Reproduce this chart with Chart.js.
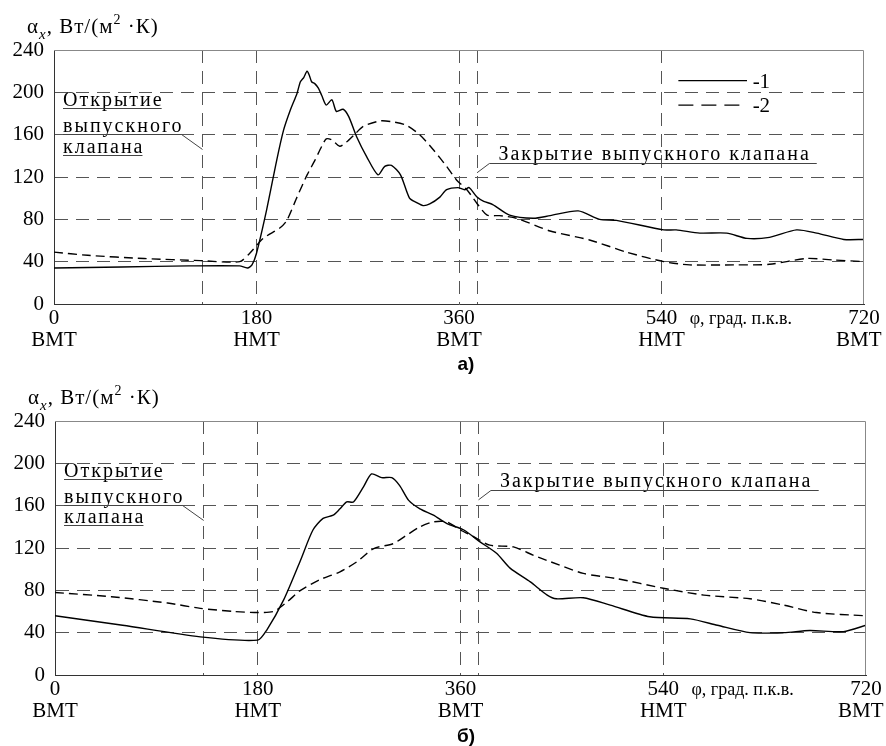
<!DOCTYPE html>
<html>
<head>
<meta charset="utf-8">
<script src="https://cdn.jsdelivr.net/npm/chart.js@4.4.0/dist/chart.umd.min.js"></script>
<style>
  body { margin: 0; background: #fff; width: 886px; height: 746px; overflow: hidden; position: relative; }
  canvas { position: absolute; left: 0; }
  #chartA { top: 0; }
  #chartB { top: 371px; }
  .cap { position: absolute; width: 60px; left: 436px; text-align: center;
         font: bold 19px "Liberation Sans", Arial, sans-serif; color: #000; }
</style>
</head>
<body>
<canvas id="chartA" width="886" height="371"></canvas>
<canvas id="chartB" width="886" height="375"></canvas>
<div class="cap" style="top:353px">а)</div>
<div class="cap" style="top:725px">б)</div>
<script>
// ---- data (crank angle, deg / heat transfer coef, W/(m2 K)) ----
const phiA1   = [0, 60, 120, 165, 172, 176, 180, 189, 198, 204, 210, 216, 219, 222, 225, 227, 229, 232, 235, 238, 242, 247, 251, 257, 262, 269, 278, 288, 294, 300, 308, 316, 322, 328, 334, 343, 349, 359, 365, 369, 376, 382, 390, 405, 426, 441, 466, 485, 500, 542, 553, 574, 598, 616, 636, 660, 678, 702, 720];
const alphaA1 = [34, 35, 36, 36, 34, 37, 48, 89, 136, 164, 183, 199, 210, 214, 220, 216, 210, 208, 204, 197, 188, 193, 182, 184, 177, 158, 139, 122, 130, 131, 122, 100, 96, 93, 94.5, 101, 108, 110, 108, 110, 101, 97, 94, 84, 81, 83.5, 88, 80, 79, 70, 70, 67, 67, 62, 63, 70, 67, 61, 61];

const phiA2   = [0, 30, 80, 130, 165, 174, 186, 201, 207, 216, 225, 232, 238, 242, 247, 254, 260, 268, 275, 290, 302, 313, 325, 337, 349, 358, 367, 376, 385, 396, 411, 441, 476, 509, 542, 565, 604, 636, 669, 693, 720];
const alphaA2 = [49, 46, 43, 41, 40, 48, 62, 72, 79, 101, 122, 136, 149, 156, 155, 149, 153, 161, 168, 173, 172, 169, 160, 146, 130, 117, 108, 95, 84, 83.5, 81, 69, 60.5, 49, 40, 37, 37, 37.5, 43, 41.6, 40];

const phiB1   = [0, 60, 129, 180, 188, 203, 218, 229, 238, 247, 253, 259, 265, 274, 281, 290, 299, 306, 314, 324, 336, 348, 363, 377, 392, 404, 422, 437, 445, 469, 493, 528, 564, 588, 617, 647, 670, 700, 720];
const alphaB1 = [56, 47, 36, 33, 42.5, 71, 108.5, 137, 148, 151, 157, 163.5, 163.5, 178, 190, 186.5, 186.5, 179, 165, 157, 151, 143, 137, 126, 115, 101, 88, 75.5, 72, 73, 66, 55, 53, 47, 40, 40, 42, 41, 47];

const phiB2   = [0, 50, 100, 129, 159, 180, 194, 206, 218, 235, 253, 268, 283, 300, 312, 324, 336, 348, 360, 372, 386, 407, 425, 440, 469, 499, 540, 576, 617, 647, 676, 719];
const alphaB2 = [78, 74, 68, 63, 60, 59, 60, 69, 80, 90, 97.5, 107, 119.5, 124, 132, 140, 144.7, 144.7, 137, 130.5, 122.7, 121, 113, 107, 96, 91, 82, 75.5, 72, 66, 59, 56];

const xTickValues = [0, 180, 360, 540, 720];
const xTickNums   = ['0', '180', '360', '540', '720'];
const xTickNames  = ['ВМТ', 'НМТ', 'ВМТ', 'НМТ', 'ВМТ\u00a0\u00a0'];
const valveMarks  = [132, 376];   // открытие / закрытие выпускного клапана
const yTickValues = [0, 40, 80, 120, 160, 200, 240];

const SERIF = '"Liberation Serif", "Times New Roman", serif';

const notesPlugin = {
  id: 'notes',
  afterDraw(chart, args, o) {
    const {ctx, chartArea: a, scales: {x, y}} = chart;
    ctx.save();
    // top and right frame
    ctx.strokeStyle = '#888';
    ctx.lineWidth = 1;
    ctx.beginPath();
    ctx.moveTo(a.left, a.top + 0.5);
    ctx.lineTo(a.right - 0.5, a.top + 0.5);
    ctx.lineTo(a.right - 0.5, a.bottom);
    ctx.stroke();

    ctx.fillStyle = '#000';
    ctx.strokeStyle = '#444';
    ctx.textBaseline = 'alphabetic';
    ctx.textAlign = 'left';

    // y axis title
    let tx = a.left - 27, ty = a.top - 17;
    const piece = (t, font, dy) => { ctx.font = font; ctx.fillText(t, tx, ty + dy); tx += ctx.measureText(t).width; };
    ctx.letterSpacing = '1px';
    piece('α', '21px ' + SERIF, 0);
    piece('x', 'italic 15px ' + SERIF, 6);
    piece(', Вт/(м', '21px ' + SERIF, 0);
    piece('2', '14px ' + SERIF, -9);
    piece(' ·К)', '21px ' + SERIF, 0);

    ctx.font = '20px ' + SERIF;
    ctx.letterSpacing = '2px';
    // opening note
    const ox = x.getPixelForValue(8);
    const words = ['Открытие', 'выпускного', 'клапана'];
    const ends = [];
    words.forEach((w, i) => {
      const yy = Math.round(y.getPixelForValue(o.openY[i])) + 0.5;
      ctx.fillText(w, ox, yy - 3);
      const w2 = ctx.measureText(w).width - 2;
      ends.push([ox + w2, yy]);
      ctx.beginPath(); ctx.moveTo(ox, yy); ctx.lineTo(ox + w2, yy); ctx.stroke();
    });
    ctx.beginPath();
    ctx.moveTo(ends[1][0], ends[1][1]);
    ctx.lineTo(x.getPixelForValue(valveMarks[0]), y.getPixelForValue(o.openY[1] - 15));
    ctx.stroke();

    // closing note
    const cy = Math.round(y.getPixelForValue(o.closeY)) + 0.5;
    const cx0 = x.getPixelForValue(387), cx1 = x.getPixelForValue(678);
    ctx.fillText('Закрытие выпускного клапана', x.getPixelForValue(395), cy - 4);
    ctx.beginPath();
    ctx.moveTo(x.getPixelForValue(valveMarks[1]), y.getPixelForValue(o.closeY - 9));
    ctx.lineTo(cx0, cy);
    ctx.lineTo(cx1, cy);
    ctx.stroke();

    // axis name
    ctx.letterSpacing = '0px';
    ctx.font = '18px ' + SERIF;
    ctx.fillText('φ, град. п.к.в.', x.getPixelForValue(565), a.bottom + 20);

    // legend
    if (o.legend) {
      ctx.strokeStyle = '#000';
      ctx.lineWidth = 1.3;
      ctx.font = '21px ' + SERIF;
      ['-1', '-2'].forEach((t, i) => {
        const ly = y.getPixelForValue(o.legend[i]);
        ctx.setLineDash(i ? [15, 8] : []);
        ctx.beginPath();
        ctx.moveTo(x.getPixelForValue(555), ly);
        ctx.lineTo(x.getPixelForValue(616), ly);
        ctx.stroke();
        ctx.fillText(t, x.getPixelForValue(621), ly + 7);
      });
    }
    ctx.restore();
  }
};

function pts(xs, ys) { return xs.map((v, i) => ({x: v, y: ys[i]})); }

function makeChart(id, s1, s2, lay, notes) {
  const gridCol = (v, edges) => edges.includes(v) ? 'rgba(0,0,0,0)' : '#555';
  return new Chart(document.getElementById(id), {
    type: 'line',
    data: {
      datasets: [
        { data: s1, borderColor: '#000', borderWidth: 1.4, pointRadius: 0, tension: 0.25 },
        { data: s2, borderColor: '#000', borderWidth: 1.4, pointRadius: 0, tension: 0.25, borderDash: [9, 5] }
      ]
    },
    options: {
      responsive: false,
      devicePixelRatio: 1,
      animation: false,
      layout: { padding: { left: 0, top: 50, right: lay.right, bottom: lay.bottom } },
      plugins: { legend: { display: false }, tooltip: { enabled: false }, notes: notes },
      scales: {
        x: {
          type: 'linear', min: 0, max: 720,
          afterBuildTicks: s => { s.ticks = xTickValues.concat(valveMarks).sort((p, q) => p - q).map(v => ({value: v})); },
          afterFit: s => { s.height = 60; s.paddingLeft = 0; s.paddingRight = 0; },
          ticks: {
            autoSkip: false, maxRotation: 0, padding: 3, color: '#000',
            font: { family: SERIF, size: 21, lineHeight: 1.05 },
            callback: v => { const i = xTickValues.indexOf(v); return i < 0 ? '' : [xTickNums[i], xTickNames[i]]; }
          },
          grid: { drawTicks: false, lineWidth: 1, color: c => gridCol(c.tick && c.tick.value, [0, 720]) },
          border: { display: true, color: '#333', width: 1, dash: [13, 8] }
        },
        y: {
          min: 0, max: 240,
          afterBuildTicks: s => { s.ticks = yTickValues.map(v => ({value: v})); },
          afterFit: s => { s.width = lay.left; },
          ticks: { padding: 10, color: '#000', font: { family: SERIF, size: 21 } },
          grid: { drawTicks: false, lineWidth: 1, color: c => gridCol(c.tick && c.tick.value, [0, 240]) },
          border: { display: true, color: '#333', width: 1, dash: [13, 8] }
        }
      }
    },
    plugins: [notesPlugin]
  });
}

makeChart('chartA', pts(phiA1, alphaA1), pts(phiA2, alphaA2),
  { left: 54, right: 22, bottom: 7 },
  { openY: [185, 161, 141], closeY: 133, legend: [211, 188] });

makeChart('chartB', pts(phiB1, alphaB1), pts(phiB2, alphaB2),
  { left: 55, right: 20, bottom: 11 },
  { openY: [185, 161, 141.5], closeY: 174.5, legend: null });
</script>
</body>
</html>
